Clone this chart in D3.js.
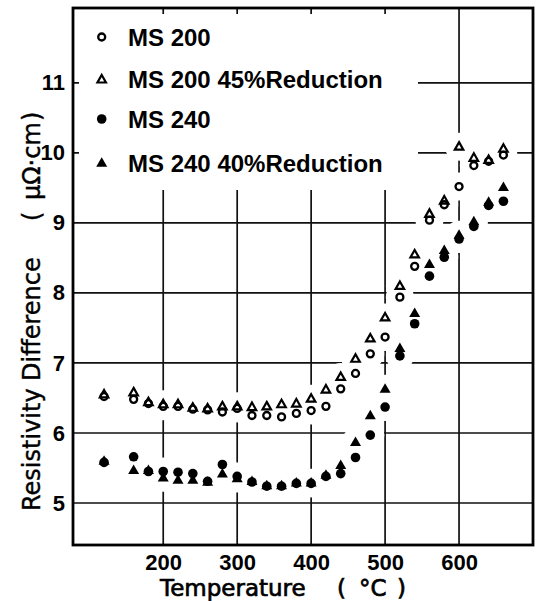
<!DOCTYPE html>
<html>
<head>
<meta charset="utf-8">
<script src="https://cdn.jsdelivr.net/npm/d3@7"></script>
<style>
  body { margin: 0; background: #fff; }
  svg { display: block; }
</style>
</head>
<body>
<div id="chart"></div>
<script>
const width = 538;
const height = 601;
const margin = { top: 8, right: 5, bottom: 56, left: 73 };

// annealing temperature (°C)
const temps = [120, 160, 180, 200, 220, 240, 260, 280, 300, 320, 340, 360, 380, 400,
               420, 440, 460, 480, 500, 520, 540, 560, 580, 600, 620, 640, 660];

// resistivity difference (µΩ·cm)
const ms200 = [6.52, 6.48, 6.42, 6.38, 6.38, 6.34, 6.33, 6.30, 6.35, 6.25, 6.25, 6.23, 6.28, 6.32,
               6.38, 6.63, 6.85, 7.13, 7.37, 7.94, 8.38, 9.04, 9.26, 9.52, 9.82, 9.88, 9.97];
const ms200r = [6.55, 6.58, 6.44, 6.41, 6.41, 6.36, 6.35, 6.38, 6.38, 6.37, 6.38, 6.41, 6.42, 6.49,
                6.62, 6.80, 7.06, 7.35, 7.65, 8.10, 8.55, 9.13, 9.32, 10.09, 9.93, 9.90, 10.06];
const ms240 = [5.58, 5.66, 5.45, 5.45, 5.44, 5.42, 5.31, 5.55, 5.38, 5.30, 5.24, 5.24, 5.28, 5.28,
               5.38, 5.42, 5.65, 5.97, 6.37, 7.10, 7.56, 8.24, 8.51, 8.77, 8.95, 9.25, 9.31];
const ms240r = [5.60, 5.47, 5.47, 5.36, 5.33, 5.33, 5.30, 5.42, 5.35, 5.31, 5.25, 5.25, 5.29, 5.29,
                5.40, 5.54, 5.87, 6.25, 6.63, 7.21, 7.71, 8.41, 8.61, 8.83, 9.02, 9.30, 9.51];

const xTicks = [200, 300, 400, 500, 600];
const yTicks = [5, 6, 7, 8, 9, 10, 11];
const legendLabels = ["MS 200", "MS 200 45%Reduction", "MS 240", "MS 240 40%Reduction"];

const series = [
    { name: legendLabels[0], values: ms200, shape: "circle", filled: false },
    { name: legendLabels[1], values: ms200r, shape: "triangle", filled: false },
    { name: legendLabels[2], values: ms240, shape: "circle", filled: true },
    { name: legendLabels[3], values: ms240r, shape: "triangle", filled: true }
];

const svg = d3.select("#chart")
    .append("svg")
    .attr("width", width)
    .attr("height", height);

const x = d3.scaleLinear()
    .domain([78, 700])
    .range([margin.left, width - margin.right]);

const y = d3.scaleLinear()
    .domain([4.4, 12.07])
    .range([height - margin.bottom, margin.top]);

const x0 = x.range()[0], x1 = x.range()[1];
const y0 = y.range()[1], y1 = y.range()[0];

// grid
const grid = svg.append("g").attr("stroke", "#111").attr("stroke-width", 1.7);
grid.selectAll(".vgrid")
    .data(xTicks)
    .enter().append("line")
    .attr("x1", d => x(d)).attr("x2", d => x(d))
    .attr("y1", y0).attr("y2", y1);
grid.selectAll(".hgrid")
    .data(yTicks)
    .enter().append("line")
    .attr("x1", x0).attr("x2", x1)
    .attr("y1", d => y(d)).attr("y2", d => y(d));

// legend area is blanked out of the grid
svg.append("rect")
    .attr("x", x0 + 6).attr("y", y0 + 6)
    .attr("width", 339).attr("height", 176)
    .attr("fill", "#fff");

const points = [];
series.forEach(s => {
    s.values.forEach((v, i) => points.push({ t: temps[i], v: v, s: s }));
});

// clearance around the points, as in the drawing
svg.append("g").selectAll("circle")
    .data(points)
    .enter().append("circle")
    .attr("cx", d => x(d.t))
    .attr("cy", d => y(d.v))
    .attr("r", 14)
    .attr("fill", "#fff");

function triangle(cx, cy, w, h) {
    return `M${cx},${cy - h * 0.6}L${cx + w / 2},${cy + h * 0.4}L${cx - w / 2},${cy + h * 0.4}Z`;
}

function drawMarker(g, s, cx, cy) {
    if (s.shape === "circle") {
        g.append("circle")
            .attr("cx", cx).attr("cy", cy)
            .attr("r", s.filled ? 4.8 : 3.5)
            .attr("fill", s.filled ? "#000" : "none")
            .attr("stroke", "#000")
            .attr("stroke-width", s.filled ? 0 : 2.3);
    } else {
        g.append("path")
            .attr("d", s.filled ? triangle(cx, cy, 11, 9.5) : triangle(cx, cy, 8.5, 7.5))
            .attr("fill", s.filled ? "#000" : "none")
            .attr("stroke", "#000")
            .attr("stroke-width", s.filled ? 0 : 2.2)
            .attr("stroke-linejoin", "miter");
    }
}

const marks = svg.append("g");
points.forEach(p => drawMarker(marks, p.s, x(p.t), y(p.v)));

// frame
svg.append("rect")
    .attr("x", x0).attr("y", y0)
    .attr("width", x1 - x0).attr("height", y1 - y0)
    .attr("fill", "none")
    .attr("stroke", "#000")
    .attr("stroke-width", 2.8);

// legend
const legendRows = [37, 79.5, 119, 163];
const legend = svg.append("g");
series.forEach((s, i) => {
    drawMarker(legend, s, 101.7, legendRows[i]);
    legend.append("text")
        .attr("x", 128)
        .attr("y", legendRows[i] + 8.5)
        .attr("font-family", "Liberation Sans, Arial, sans-serif")
        .attr("font-weight", "bold")
        .attr("font-size", 24)
        .text(s.name);
});

// axes
const xAxis = svg.append("g")
    .attr("transform", `translate(0,${y1})`)
    .call(d3.axisBottom(x).tickValues(xTicks).tickSize(0).tickPadding(10));
xAxis.select(".domain").remove();
xAxis.selectAll("text")
    .attr("y", 25)
    .attr("dy", 0)
    .attr("fill", "#000")
    .attr("font-family", "Liberation Sans, Arial, sans-serif")
    .attr("font-weight", "bold")
    .attr("font-size", 22);

const yAxis = svg.append("g")
    .attr("transform", `translate(${x0},0)`)
    .call(d3.axisLeft(y).tickValues(yTicks).tickSize(0).tickPadding(8));
yAxis.select(".domain").remove();
yAxis.selectAll("text")
    .attr("fill", "#000")
    .attr("font-family", "Liberation Sans, Arial, sans-serif")
    .attr("font-weight", "bold")
    .attr("font-size", 22);

// axis titles
const xTitle = svg.append("text")
    .attr("y", 596)
    .attr("font-family", "DejaVu Sans, sans-serif")
    .attr("font-size", 23)
    .attr("stroke", "#000")
    .attr("stroke-width", 0.7);
[["Temperature", 160], ["(", 337], ["°C", 359], [")", 397]].forEach(([t, px]) => {
    xTitle.append("tspan").attr("x", px).text(t);
});

const yTitle = svg.append("text")
    .attr("transform", "translate(39.5,0) rotate(-90)")
    .attr("font-family", "DejaVu Sans, sans-serif")
    .attr("font-size", 24)
    .attr("stroke", "#000")
    .attr("stroke-width", 0.4);
[["Resistivity", -511], ["Difference", -381], ["(", -221], ["μΩ·cm", -200], [")", -121]].forEach(([t, px]) => {
    yTitle.append("tspan").attr("x", px).text(t);
});
</script>
</body>
</html>
